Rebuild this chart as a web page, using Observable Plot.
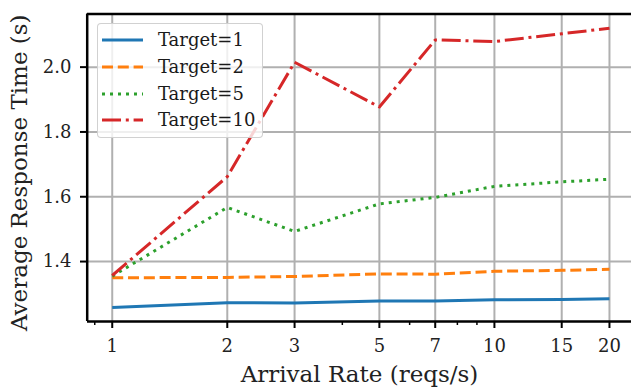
<!DOCTYPE html>
<html><head><meta charset="utf-8">
<script src="https://cdn.jsdelivr.net/npm/d3@7"></script>
<script src="https://cdn.jsdelivr.net/npm/@observablehq/plot@0.6"></script>
<style>
body{margin:0;background:#fff;}
#wrap{position:relative;width:631px;height:388px;overflow:hidden;}
#wrap svg{font-family:"DejaVu Serif",serif;overflow:hidden;}
.legend{position:absolute;left:97px;top:23px;width:166px;height:115px;background:rgba(255,255,255,0.8);border:1px solid rgba(204,204,204,0.9);border-radius:4px;box-sizing:border-box;font-family:"DejaVu Serif",serif;font-size:18px;color:#1a1a1a;}
.legend .row{position:absolute;left:0;height:20px;width:100%;}
.legend .row svg{position:absolute;left:4px;top:0;}
.legend .row span{position:absolute;left:60px;top:0;line-height:20px;white-space:nowrap;}
</style></head>
<body>
<div id="wrap"></div>
<script>
const arrivalRates = [1, 2, 3, 5, 7, 10, 15, 20];
const target1  = [1.258, 1.273, 1.272, 1.278, 1.278, 1.282, 1.283, 1.285];
const target2  = [1.350, 1.351, 1.354, 1.362, 1.361, 1.370, 1.373, 1.376];
const target5  = [1.355, 1.567, 1.493, 1.578, 1.598, 1.632, 1.646, 1.654];
const target10 = [1.357, 1.662, 2.015, 1.877, 2.084, 2.079, 2.103, 2.120];
const seriesNames = ["Target=1", "Target=2", "Target=5", "Target=10"];
const seriesColors = ["#1f77b4", "#ff7f0e", "#2ca02c", "#d62728"];
const seriesDash = [null, "11,4.8", "3,5", "19,4.8,3,4.8"];
const xTicks = [1, 2, 3, 5, 7, 10, 15, 20];
const xTickLabels = ["1", "2", "3", "5", "7", "10", "15", "20"];
const xMinorTicks = [0.9, 4, 6, 8, 9];
const yTicks = [1.4, 1.6, 1.8, 2.0];
const xDomain = [0.86, 23.2];
const yDomain = [1.215, 2.164];
const xLabel = "Arrival Rate (reqs/s)";
const yLabel = "Average Response Time (s)";

const allSeries = [target1, target2, target5, target10];
const lineMarks = allSeries.map((vals, i) =>
  Plot.line(arrivalRates.map((x, j) => ({x, y: vals[j]})), {
    x: "x", y: "y", stroke: seriesColors[i], strokeWidth: 3,
    strokeDasharray: seriesDash[i] || undefined, strokeLinecap: "butt", strokeLinejoin: "round"
  })
);

const chart = Plot.plot({
  width: 631, height: 388,
  marginLeft: 87, marginRight: 0, marginTop: 13.5, marginBottom: 67,
  style: {fontFamily: '"DejaVu Serif", serif', fontSize: "18px", color: "#222", background: "white"},
  x: {type: "log", domain: xDomain, range: [86.7, 633.6]},
  y: {domain: yDomain, range: [321, 13.5]},
  marks: [
    Plot.gridX(xTicks, {stroke: "#b0b0b0", strokeOpacity: 1, strokeWidth: 2}),
    Plot.gridY(yTicks, {stroke: "#b0b0b0", strokeOpacity: 1, strokeWidth: 2}),
    ...lineMarks,
    Plot.ruleY([yDomain[0], yDomain[1]], {stroke: "black", strokeWidth: 2.5}),
    Plot.ruleX([xDomain[0]], {stroke: "black", strokeWidth: 2.5}),
    Plot.axisX(xTicks, {tickSize: 7, strokeWidth: 2, stroke: "black", tickFormat: () => "", label: null}),
    Plot.axisX(xMinorTicks, {tickSize: 4, strokeWidth: 1.5, stroke: "black", tickFormat: () => "", label: null}),
    Plot.text(xTicks, {x: d => d, text: (d, i) => xTickLabels[i], frameAnchor: "bottom", lineAnchor: "top", dy: 18, fontSize: 18, fill: "#222"}),
    Plot.axisY(yTicks, {tickSize: 7, tickPadding: 9, strokeWidth: 2, stroke: "black", tickFormat: d3.format(".1f"), fontSize: 18, label: null}),
    Plot.text([xLabel], {text: d => d, frameAnchor: "bottom", lineAnchor: "top", dy: 44, fontSize: 23, fill: "#222"}),
    Plot.text([yLabel], {text: d => d, frameAnchor: "left", rotate: -90, lineAnchor: "top", textAnchor: "middle", dx: -77, dy: 5, fontSize: 23, fill: "#222"})
  ]
});
const wrap = document.getElementById("wrap");
wrap.appendChild(chart);

const legend = document.createElement("div");
legend.className = "legend";
seriesNames.forEach((name, i) => {
  const row = document.createElement("div");
  row.className = "row";
  row.style.top = (6.3 + i * 26.7) + "px";
  const dash = seriesDash[i] ? ` stroke-dasharray="${seriesDash[i]}"` : "";
  row.innerHTML = `<svg width="44" height="20"><line x1="0" x2="41" y1="10" y2="10" stroke="${seriesColors[i]}" stroke-width="3"${dash}/></svg><span>${name}</span>`;
  legend.appendChild(row);
});
wrap.appendChild(legend);
</script>
</body></html>
